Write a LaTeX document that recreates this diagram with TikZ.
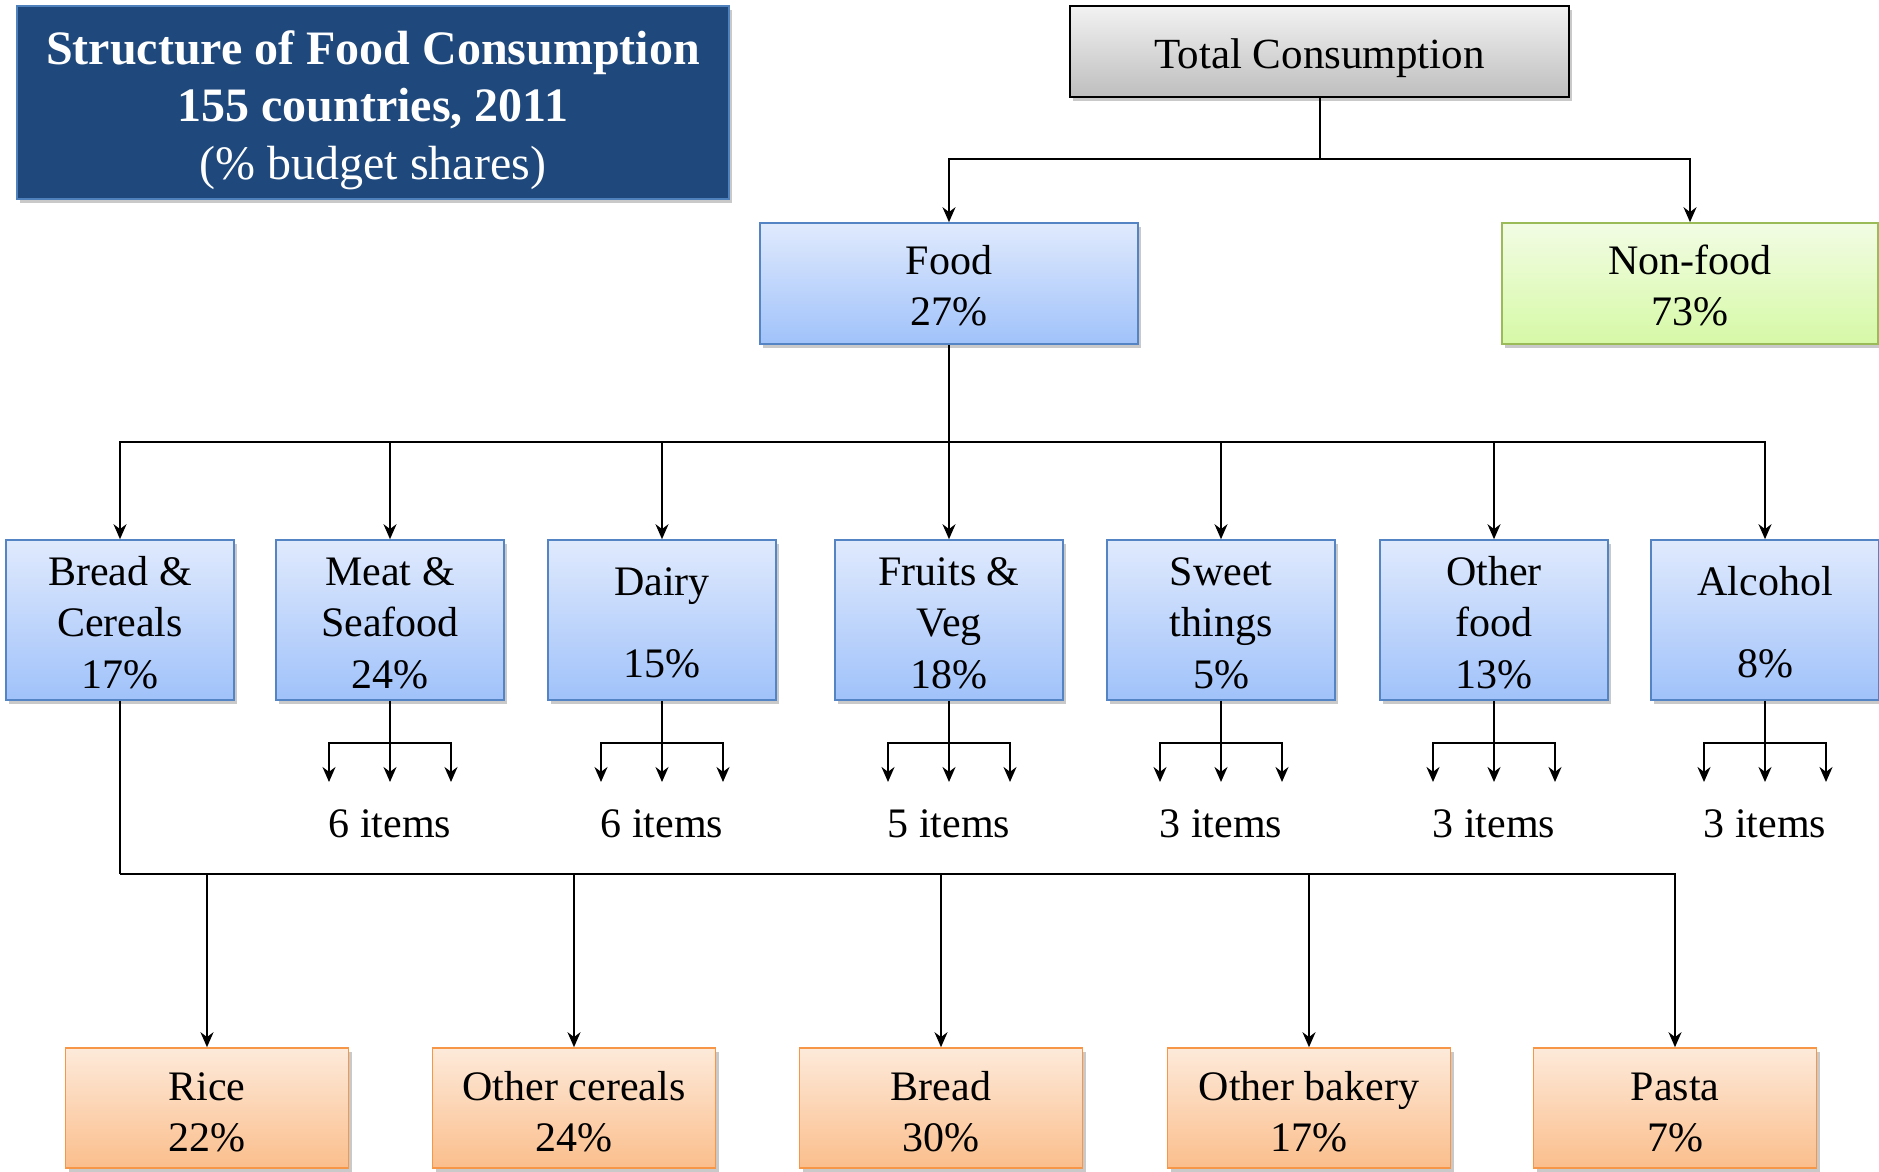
\documentclass[tikz,border=0pt]{standalone}
\usepackage{fontspec}
\setmainfont{Liberation Serif}
\usetikzlibrary{arrows.meta,shadows}
\definecolor{titleblue}{RGB}{31,73,125}
\definecolor{titleborder}{RGB}{79,129,189}
\definecolor{graytop}{RGB}{242,242,242}
\definecolor{graybot}{RGB}{190,190,190}
\definecolor{bluetop}{RGB}{224,234,253}
\definecolor{bluebot}{RGB}{160,194,250}
\definecolor{blueborder}{RGB}{84,132,196}
\definecolor{greentop}{RGB}{242,252,228}
\definecolor{greenbot}{RGB}{214,249,166}
\definecolor{greenborder}{RGB}{155,187,89}
\definecolor{orangetop}{RGB}{253,234,218}
\definecolor{orangebot}{RGB}{251,190,140}
\definecolor{orangeborder}{RGB}{247,150,70}
\begin{document}
\begin{tikzpicture}[x=1pt,y=-1pt,
  box/.style={draw, line width=1.6pt, align=center, inner sep=0pt,
    font=\fontsize{42}{51.5}\selectfont, text depth=0pt,
    drop shadow={shadow xshift=3pt, shadow yshift=-4pt, opacity=0.3, fill=black!70}},
  titlebox/.style={box, draw=titleborder, fill=titleblue, text=white,
    minimum width=712pt, minimum height=193pt, font=\fontsize{48}{57.5}\selectfont,
    text height=153pt},
  topbox/.style={box, draw=black, top color=graytop, bottom color=graybot,
    minimum width=499pt, minimum height=91pt, font=\fontsize{43}{51.5}\selectfont,
    text height=34pt},
  foodbox/.style={box, draw=blueborder, top color=bluetop, bottom color=bluebot,
    minimum width=378pt, minimum height=121pt, text height=84pt},
  nfbox/.style={box, draw=greenborder, top color=greentop, bottom color=greenbot,
    minimum width=376pt, minimum height=121pt, text height=84pt},
  catbox/.style={box, draw=blueborder, top color=bluetop, bottom color=bluebot,
    minimum width=228pt, minimum height=160pt, text height=136.5pt},
  cat2box/.style={catbox, text height=114.5pt},
  subbox/.style={box, draw=orangeborder, top color=orangetop, bottom color=orangebot,
    minimum width=283pt, minimum height=120pt, text height=87.5pt},
  itemtxt/.style={inner sep=0pt, font=\fontsize{42}{51.5}\selectfont},
  conn/.style={line width=2pt},
  arr/.style={conn, -{Stealth[length=15pt,width=13pt]}}]
\useasboundingbox (0,0) rectangle (1879,1172);

\node[titlebox] (title) at (373,102.5) {\textbf{Structure of Food Consumption}\\\textbf{155 countries, 2011}\\(\% budget shares)};
\node[topbox] (tc) at (1319.5,51.5) {Total Consumption};
\node[foodbox] (food) at (949,283.5) {Food\\27\%};
\node[nfbox] (nonfood) at (1690,283.5) {Non-food\\73\%};

\node[catbox] (bread) at (120,620) {Bread \&\\Cereals\\17\%};
\node[catbox] (meat) at (390,620) {Meat \&\\Seafood\\24\%};
\node[cat2box] (dairy) at (662,620) {Dairy\\[30pt]15\%};
\node[catbox] (fruit) at (949,620) {Fruits \&\\Veg\\18\%};
\node[catbox] (sweet) at (1221,620) {Sweet\\things\\5\%};
\node[catbox] (other) at (1494,620) {Other\\food\\13\%};
\node[cat2box] (alc) at (1765,620) {Alcohol\\[30pt]8\%};

\node[subbox] (rice) at (207,1108) {Rice\\22\%};
\node[subbox] (ocer) at (574,1108) {Other cereals\\24\%};
\node[subbox] (breadb) at (941,1108) {Bread\\30\%};
\node[subbox] (obak) at (1309,1108) {Other bakery\\17\%};
\node[subbox] (pasta) at (1675,1108) {Pasta\\7\%};

% Total -> Food / Non-food
\coordinate (tcbus) at (tc.south |- 0,159);
\draw[conn] (tc.south) -- (tcbus);
\draw[arr] (tcbus) -| (food.north);
\draw[arr] (tcbus) -| (nonfood.north);

% Food -> categories
\coordinate (fbus) at (food.south |- 0,442);
\draw[conn] (food.south) -- (fbus);
\foreach \c in {bread,meat,dairy,fruit,sweet,other,alc}
  \draw[arr] (fbus) -| (\c.north);

% items
\foreach \c/\n in {meat/6,dairy/6,fruit/5,sweet/3,other/3,alc/3}{
  \coordinate (\c-bus) at (\c.south |- 0,743);
  \draw[conn] (\c.south) -- (\c-bus);
  \draw[arr] (\c-bus) -- ++(-61,0) -- ++(0,39);
  \draw[arr] (\c-bus) -- ++(0,39);
  \draw[arr] (\c-bus) -- ++(61,0) -- ++(0,39);
  \node[itemtxt, anchor=base] (\c-items) at (\c.south |- 0,837) {\n\ items};
}

% Bread & Cereals -> sub items
\coordinate (bbus) at (bread.south |- 0,874);
\draw[conn] (bread.south) -- (bbus);
\foreach \b in {rice,ocer,breadb,obak,pasta}
  \draw[arr] (bbus) -| (\b.north);
\end{tikzpicture}
\end{document}
